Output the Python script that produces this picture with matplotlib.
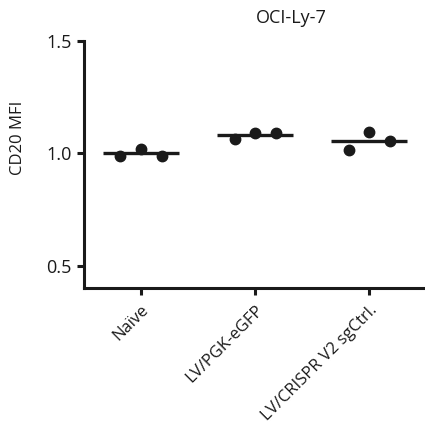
import matplotlib
matplotlib.use("Agg")
import matplotlib.pyplot as plt
import numpy as np

plt.rcParams['font.family'] = ['Open Sans', 'DejaVu Sans']

categories = ["Naïve", "LV/PGK-eGFP", "LV/CRISPR V2 sgCtrl."]
values = [
    [0.99, 1.02, 0.99],
    [1.064, 1.089, 1.089],
    [1.015, 1.096, 1.056],
]
yticks = [0.5, 1.0, 1.5]
title = "OCI-Ly-7"
ylabel = "CD20 MFI"

fig = plt.figure(figsize=(4.25, 4.45), dpi=100)
W, H = 425, 445
ax = fig.add_axes([84/W, 1 - 288/H, (425-84)/W, (288-41)/H])

offsets = [-0.18, 0.0, 0.18]
for i, vals in enumerate(values):
    xs = [i + o for o in offsets]
    ax.plot(xs, vals, 'o', color='#1a1a1a', markersize=7.5, zorder=3, clip_on=False)
    m = np.mean(vals)
    ax.plot([i - 0.33, i + 0.33], [m, m], color='#1a1a1a', lw=2.4, zorder=2,
            solid_capstyle='butt')

ax.set_xlim(-0.5, 2.49)
ax.set_ylim(0.4, 1.5)
ax.set_yticks(yticks)
ax.set_yticklabels([f"{t:.1f}" for t in yticks], fontsize=13)
ax.set_xticks(range(len(categories)))
ax.set_xticklabels(categories, rotation=45, ha='right', rotation_mode='anchor', fontsize=12)
for s in ['top', 'right']:
    ax.spines[s].set_visible(False)
for s in ['left', 'bottom']:
    ax.spines[s].set_linewidth(2.2)
    ax.spines[s].set_color('#1a1a1a')
ax.spines['left'].set_bounds(0.4, 1.5)
ax.tick_params(axis='both', width=2.2, length=5, color='#1a1a1a', labelcolor='#1a1a1a')
ax.tick_params(axis='y', pad=4)
ax.tick_params(axis='x', pad=5)

fig.text(291/W, 1 - 18/H, title, ha='center', va='center', fontsize=13, color='#1a1a1a')
fig.text(18/W, 1 - 138/H, ylabel, ha='center', va='center', rotation=90, fontsize=12, color='#1a1a1a')
fig.text(3/W, 1 + 6/H, "A", ha='left', va='center', fontsize=16, color='#1a1a1a')

fig.savefig("out.png", dpi=100)
